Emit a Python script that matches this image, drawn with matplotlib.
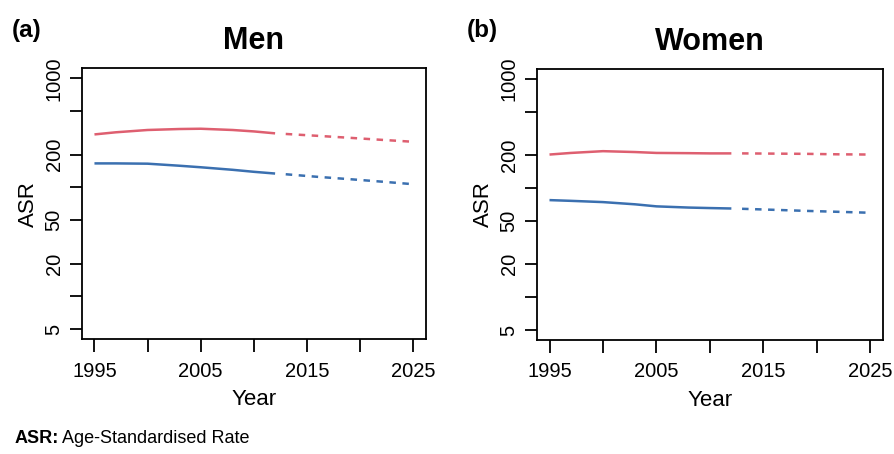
import matplotlib
matplotlib.use("Agg")
import matplotlib.pyplot as plt
from matplotlib.ticker import FixedLocator, NullLocator

plt.rcParams['font.family'] = ['Liberation Sans', 'DejaVu Sans']

obs_years = [1995, 1997, 2000, 2003, 2005, 2008, 2010, 2012]
fc_years = [2013, 2016, 2019, 2022, 2025]

men_red_obs = [306, 320, 336, 343, 345, 336, 326, 313]
men_red_fc = [309, 297, 285, 273, 262]
men_blue_obs = [166, 166, 165, 158, 153, 145, 139, 134]
men_blue_fc = [132, 125, 119, 113, 107]

women_red_obs = [203, 210, 218, 214, 210, 209, 208, 208]
women_red_fc = [208, 207, 206, 204, 203]
women_blue_obs = [77.6, 76.4, 74.4, 71.0, 68.0, 66.3, 65.6, 65.0]
women_blue_fc = [64.6, 63.2, 61.8, 60.6, 59.4]

panels = [
    ("(a)", "Men", men_red_obs, men_red_fc, men_blue_obs, men_blue_fc),
    ("(b)", "Women", women_red_obs, women_red_fc, women_blue_obs, women_blue_fc),
]

x_ticks = [1995, 2000, 2005, 2010, 2015, 2020, 2025]
x_labels = ["1995", "", "2005", "", "2015", "", "2025"]
y_ticks = [5, 10, 20, 50, 100, 200, 500, 1000]
y_labels = ["5", "", "20", "50", "", "200", "", "1000"]

red = "#de5f70"
blue = "#3b70b0"

fig = plt.figure(figsize=(8.94, 4.54), dpi=100)
boxes = [[0.0914, 0.2526, 0.3851, 0.597], [0.6003, 0.2511, 0.3877, 0.597]]

for box, (tag, title, r_obs, r_fc, b_obs, b_fc) in zip(boxes, panels):
    ax = fig.add_axes(box)
    ax.set_yscale("log")
    ax.plot(obs_years, r_obs, color=red, lw=1.8, solid_capstyle="butt")
    ax.plot(fc_years, r_fc, color=red, lw=1.8, dashes=(2.6, 2.6))
    ax.plot(obs_years, b_obs, color=blue, lw=1.8, solid_capstyle="butt")
    ax.plot(fc_years, b_fc, color=blue, lw=1.8, dashes=(2.6, 2.6))

    ax.set_xlim(1993.8, 2026.2)
    ax.set_ylim(4.05, 1236)
    ax.xaxis.set_major_locator(FixedLocator(x_ticks))
    ax.set_xticklabels(x_labels)
    ax.yaxis.set_major_locator(FixedLocator(y_ticks))
    ax.yaxis.set_minor_locator(NullLocator())
    ax.set_yticklabels(y_labels, rotation=90, va="center")
    ax.tick_params(axis="both", length=9, width=1.3, labelsize=14.5)
    ax.tick_params(axis="x", pad=7)
    ax.tick_params(axis="y", pad=4)
    for s in ax.spines.values():
        s.set_linewidth(1.3)

    ax.set_xlabel("Year", fontsize=16, labelpad=6)
    ax.set_ylabel("ASR", fontsize=16, labelpad=4)
    ax.set_title(title, fontsize=22, fontweight="bold", pad=14)
    pos = ax.get_position()
    fig.text(pos.x0 - 0.078, 0.908, tag, fontsize=17.5, fontweight="bold",
             ha="left", va="bottom")

fig.text(0.016, 0.024, "ASR:", fontsize=13, fontweight="bold", ha="left", va="baseline")
fig.text(0.069, 0.024, "Age-Standardised Rate", fontsize=13, ha="left", va="baseline")

fig.savefig("out.png", dpi=100)
